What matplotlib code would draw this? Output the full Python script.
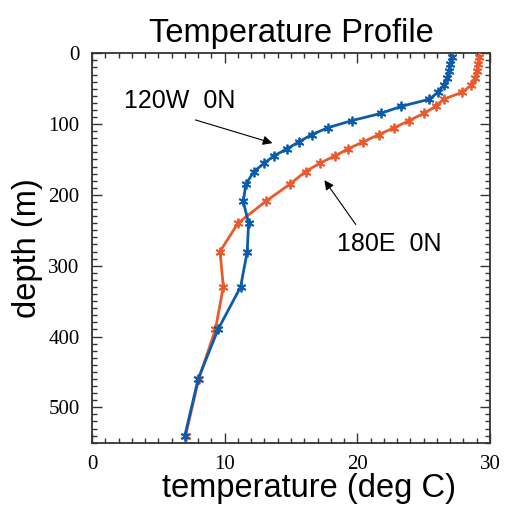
import numpy as np
import matplotlib
matplotlib.use("Agg")
import matplotlib.pyplot as plt
from matplotlib.ticker import MultipleLocator

# =========================
# DATA
# =========================
depth = [5, 15, 25, 35, 45, 55, 65, 75, 85, 95, 105, 115, 125, 135, 145, 155,
         167, 185, 209, 240, 280, 330, 390, 460, 540]

# 120W 0N (eastern Pacific)
temp_120w = [27.1, 27.0, 26.9, 26.75, 26.5, 26.1, 25.4, 23.3, 21.75, 19.6, 17.8,
             16.55, 15.6, 14.7, 13.7, 13.0, 12.2, 11.6, 11.4, 11.8, 11.7, 11.2,
             9.5, 8.0, 7.0]

# 180E 0N (central Pacific)
temp_180e = [29.2, 29.1, 29.0, 28.9, 28.6, 27.9, 26.5, 25.9, 25.0, 23.9, 22.8,
             21.6, 20.45, 19.3, 18.3, 17.2, 16.1, 14.9, 13.1, 11.0, 9.65, 9.9,
             9.3, 8.05, 7.05]

BLUE = "#0b5cab"
ORANGE = "#ea5a2c"
SANS = "Liberation Sans"
SERIF = "Liberation Serif"

# =========================
# FIGURE
# =========================
fig = plt.figure(figsize=(5.05, 5.07), dpi=100)
ax = fig.add_axes([0.1822, 0.1268, 0.7881, 0.7681])

star = (6, 2, 0)
ax.plot(temp_180e, depth, color=ORANGE, linewidth=2.0, marker=star,
        markersize=7, markeredgewidth=1.3, zorder=3)
ax.plot(temp_120w, depth, color=BLUE, linewidth=2.0, marker=star,
        markersize=7, markeredgewidth=1.3, zorder=4)

ax.set_xlim(0, 30)
ax.set_ylim(550, 0)

# labels with arrows
ax.annotate("", xy=(13.8, 128), xytext=(7.6, 93),
            arrowprops=dict(arrowstyle="-|>", color="black", lw=0.8,
                            mutation_scale=14))
ax.text(2.4, 67, "120W  0N", fontsize=18, family=SANS, va="center", ha="left")

ax.annotate("", xy=(17.4, 176), xytext=(20.0, 245),
            arrowprops=dict(arrowstyle="-|>", color="black", lw=0.8,
                            mutation_scale=14))
ax.text(18.5, 270, "180E  0N", fontsize=18, family=SANS, va="center", ha="left")

# axes styling
ax.xaxis.set_major_locator(MultipleLocator(10))
ax.xaxis.set_minor_locator(MultipleLocator(1))
ax.yaxis.set_major_locator(MultipleLocator(100))
ax.yaxis.set_minor_locator(MultipleLocator(10))
ax.tick_params(which="both", direction="in", top=True, right=True,
               color="#333333", width=1.0)
ax.tick_params(which="major", length=7, labelsize=15, pad=9)
ax.tick_params(which="minor", length=3.5)
for lab in ax.get_xticklabels() + ax.get_yticklabels():
    lab.set_family(SERIF)
for sp in ax.spines.values():
    sp.set_color("#333333")
    sp.set_linewidth(1.3)

ax.set_title("Temperature Profile", fontsize=23.5, family=SANS, pad=8)
ax.set_xlabel("temperature (deg C)", fontsize=23.5, family=SANS, labelpad=0)
ax.xaxis.set_label_coords(0.545, -0.078)
ax.set_ylabel("depth (m)", fontsize=23.5, family=SANS, labelpad=4)

fig.savefig("out.png", dpi=100)
